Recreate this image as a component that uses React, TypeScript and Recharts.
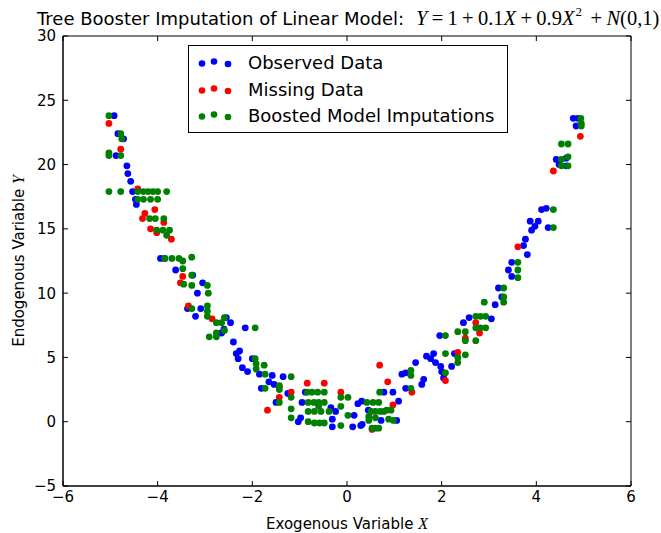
import React from 'react';
import { ScatterChart, Scatter, XAxis, YAxis, Legend, Customized, ReferenceArea, ReferenceLine } from 'recharts';

const xTicks = [-6, -4, -2, 0, 2, 4, 6];
const yTicks = [-5, 0, 5, 10, 15, 20, 25, 30];
const xDomain: [number, number] = [-6, 6];
const yDomain: [number, number] = [-5, 30];
const seriesNames = ['Observed Data', 'Missing Data', 'Boosted Model Imputations'];
const seriesColors = ['#0000ff', '#ff0000', '#008000'];

const observedData: [number, number][] = [
  [-4.92, 23.8], [-4.84, 22.4], [-4.72, 22.0], [-4.88, 20.7], [-4.65, 19.9], [-4.63, 19.3],
  [-4.57, 18.7], [-4.53, 17.9], [-4.47, 17.3], [-4.45, 16.9], [-3.94, 12.7], [-3.85, 12.7],
  [-3.62, 11.8], [-3.26, 11.4], [-3.05, 10.8], [-3.16, 10.0], [-3.37, 8.8], [-3.09, 8.8],
  [-3.2, 8.2], [-2.55, 8.1], [-2.46, 7.7], [-2.6, 7.2], [-2.65, 6.9], [-2.15, 7.3],
  [-2.4, 6.2], [-2.27, 5.5], [-2.34, 5.3], [-2.3, 4.9], [-2.0, 4.9], [-2.21, 4.2],
  [-2.1, 3.9], [-1.85, 3.7], [-1.58, 3.6], [-1.35, 3.5], [-1.81, 2.6], [-1.54, 2.9],
  [-1.65, 3.1], [-1.5, 1.5], [-1.25, 2.2], [-1.03, 0.0], [-0.98, 0.3], [-0.88, 2.3],
  [-0.95, 1.5], [-0.34, 1.1], [-0.31, 0.2], [-0.31, -0.4], [-0.24, 0.8], [0.15, 0.5],
  [0.12, -0.4], [0.29, -0.3], [0.23, 1.4], [0.31, 1.6], [0.45, 0.9], [0.32, -0.2],
  [0.78, 2.3], [0.97, 2.3], [0.72, 0.1], [1.05, 0.1], [1.09, 1.6], [1.16, 3.7],
  [1.24, 3.8], [1.45, 4.6], [1.24, 2.6], [1.58, 2.9], [1.62, 3.3], [1.68, 5.1],
  [1.77, 4.9], [1.83, 5.3], [1.87, 4.6], [1.98, 4.3], [2.0, 3.9], [2.04, 3.4],
  [2.21, 4.3], [2.27, 5.3], [1.96, 6.7], [2.46, 7.7], [2.58, 8.1], [3.05, 8.0],
  [3.13, 9.1], [3.2, 10.4], [3.27, 9.7], [3.41, 11.8], [3.48, 12.4], [3.48, 11.3],
  [3.81, 13.0], [3.73, 13.7], [3.77, 14.2], [3.9, 14.9], [3.97, 15.2], [3.87, 15.6],
  [4.04, 15.6], [4.25, 15.1], [4.11, 16.5], [4.21, 16.6], [4.42, 20.4], [4.48, 20.0],
  [4.63, 19.9], [4.63, 20.5], [4.78, 23.6], [4.84, 23.0], [4.88, 23.6],
];

const missingData: [number, number][] = [
  [-5.03, 23.2], [-4.78, 21.2], [-4.42, 18.1], [-4.06, 16.5], [-4.27, 16.2], [-4.32, 15.8],
  [-3.87, 15.5], [-4.15, 15.0], [-4.02, 14.7], [-3.71, 14.2], [-3.47, 11.3], [-3.52, 10.8],
  [-3.35, 9.0], [-2.85, 8.0], [-1.68, 0.9], [-1.43, 1.9], [-1.18, 2.3], [-0.84, 3.0],
  [-0.48, 3.0], [-0.13, 2.3], [0.53, -0.6], [0.69, 4.4], [0.86, 3.1], [0.97, 1.3],
  [1.37, 2.3], [2.08, 3.2], [2.34, 5.4], [2.5, 6.5], [2.72, 7.7], [2.8, 6.9],
  [3.61, 13.6], [4.36, 19.5], [4.93, 22.2],
];

const imputedData: [number, number][] = [
  [-5.03, 23.8], [-4.78, 22.4], [-4.76, 22.0], [-5.03, 20.9], [-5.03, 20.7], [-4.78, 20.7],
  [-5.03, 17.9], [-4.78, 17.9], [-4.42, 17.9], [-4.3, 17.9], [-4.2, 17.9], [-4.1, 17.9],
  [-4.0, 17.9], [-3.81, 17.9], [-4.42, 17.3], [-4.3, 17.3], [-4.15, 17.3], [-4.0, 17.3],
  [-4.17, 15.8], [-4.05, 15.8], [-3.87, 15.8], [-4.02, 14.9], [-3.89, 14.9], [-3.75, 14.9],
  [-3.81, 14.5], [-3.85, 12.7], [-3.7, 12.7], [-3.55, 12.7], [-3.47, 12.5], [-3.28, 12.8],
  [-3.47, 11.9], [-3.28, 11.4], [-3.45, 10.7], [-3.28, 10.6], [-2.95, 10.6], [-2.93, 10.0],
  [-3.28, 8.8], [-2.95, 9.0], [-2.95, 8.6], [-2.95, 8.2], [-2.59, 8.1], [-2.76, 7.7],
  [-2.65, 7.7], [-2.59, 7.1], [-2.76, 6.9], [-2.91, 6.6], [-2.76, 6.6], [-1.94, 7.3],
  [-1.94, 4.9], [-1.92, 4.5], [-1.75, 4.4], [-1.92, 4.1], [-1.73, 3.7], [-1.73, 2.6],
  [-1.43, 2.7], [-1.18, 3.5], [-1.43, 2.8], [-1.43, 2.5], [-1.43, 1.5], [-1.18, 1.9],
  [-1.18, 1.0], [-1.18, 0.3], [-0.84, 2.3], [-0.74, 2.3], [-0.62, 2.3], [-0.48, 2.3],
  [-0.82, 1.5], [-0.7, 1.5], [-0.6, 1.5], [-0.48, 1.5], [-0.6, 1.2], [-0.82, 0.8],
  [-0.69, 0.8], [-0.55, 0.8], [-0.38, 0.8], [-0.82, 0.0], [-0.69, -0.1], [-0.58, -0.1],
  [-0.48, -0.1], [-0.13, 1.9], [0.02, 1.9], [-0.13, 1.2], [0.02, 0.5], [-0.13, -0.3],
  [0.42, 1.5], [0.55, 1.5], [0.67, 1.5], [0.51, 0.8], [0.6, 0.8], [0.7, 0.8],
  [0.78, 0.8], [0.46, 0.4], [0.6, 0.3], [0.46, 0.1], [0.53, -0.5], [0.6, -0.5],
  [0.67, -0.5], [0.69, 2.3], [0.84, 0.9], [0.93, 0.9], [0.88, 0.2], [0.98, 0.1],
  [1.35, 4.0], [1.35, 3.6], [1.35, 2.6], [2.08, 3.8], [2.08, 5.3], [2.34, 5.0],
  [2.34, 4.6], [2.5, 5.2], [2.08, 6.7], [2.34, 7.0], [2.5, 7.0], [2.5, 6.3],
  [2.72, 6.3], [2.72, 8.2], [2.82, 8.2], [2.93, 8.2], [2.72, 7.3], [2.82, 7.3],
  [2.93, 7.3], [2.9, 9.3], [3.31, 9.7], [3.31, 9.3], [3.31, 10.4], [3.61, 12.4],
  [3.61, 11.8], [3.61, 11.2], [4.36, 15.1], [4.36, 16.5], [4.53, 20.4], [4.53, 19.9],
  [4.67, 19.9], [4.67, 20.6], [4.53, 21.6], [4.67, 21.6], [4.94, 23.6], [4.95, 23.0],
  [4.95, 23.2],
];

const allSeries = [observedData, missingData, imputedData];

const toPoints = (arr: [number, number][]) => arr.map(([x, y]) => ({ x, y }));
const fmt = (v: number) => (v < 0 ? '\u2212' + Math.abs(v) : String(v));

const FONT = 'DejaVu Sans';
const TICK_LEN = 5;
// inward tick lengths for the top/right spines, in data units (about 5px)
const X_TICK_UNITS = 0.106;
const Y_TICK_UNITS = 0.39;

const BottomTick = (props: any) => {
  const { x, y, payload } = props;
  return (
    <g>
      <line x1={x} y1={y} x2={x} y2={y - TICK_LEN} stroke="#000" strokeWidth={1} />
      <text x={x} y={y + 4} dy="0.8em" textAnchor="middle" fontFamily={FONT} fontSize={15} fill="#000">
        {fmt(payload.value)}
      </text>
    </g>
  );
};
const LeftTick = (props: any) => {
  const { x, y, payload } = props;
  return (
    <g>
      <line x1={x} y1={y} x2={x + TICK_LEN} y2={y} stroke="#000" strokeWidth={1} />
      <text x={x - 7} y={y} dy="0.36em" textAnchor="end" fontFamily={FONT} fontSize={15} fill="#000">
        {fmt(payload.value)}
      </text>
    </g>
  );
};

const makeDot = (color: string) => (props: any) =>
  props.cx == null ? <g /> : <circle cx={props.cx} cy={props.cy} r={3.4} fill={color} />;

const legendDotX = [13, 25, 39];
const legendDotDy = [0.5, -1.5, 1];

const LegendBox = () => (
  <div
    style={{
      boxSizing: 'border-box',
      width: 320,
      height: 88,
      border: '1px solid #000',
      background: '#fff',
      position: 'relative',
      fontFamily: FONT,
      fontSize: 18,
      color: '#000',
    }}
  >
    {seriesNames.map((name, i) => (
      <div
        key={name}
        style={{
          position: 'absolute',
          left: 0,
          top: 17 + i * 26.5 - 13,
          height: 26,
          display: 'flex',
          alignItems: 'center',
          whiteSpace: 'nowrap',
        }}
      >
        <svg width={59} height={26} style={{ display: 'block' }}>
          {legendDotX.map((cx, j) => (
            <circle key={j} cx={cx} cy={13 + legendDotDy[j]} r={3.3} fill={seriesColors[i]} />
          ))}
        </svg>
        <span style={{ lineHeight: '26px' }}>{name}</span>
      </div>
    ))}
  </div>
);

const OP = 4.3;

const Texts = () => (
  <g>
    <text x={37} y={25} fontFamily={FONT} fontSize={18} fill="#000">
      Tree Booster Imputation of Linear Model:
    </text>
    <text x={416} y={25} fontFamily="Liberation Serif" fontSize={20.5} fill="#000">
      <tspan fontStyle="italic">Y</tspan>
      <tspan dx={OP}>=</tspan>
      <tspan dx={OP}>1</tspan>
      <tspan dx={OP}>+</tspan>
      <tspan dx={OP}>0.1</tspan>
      <tspan fontStyle="italic">X</tspan>
      <tspan dx={OP}>+</tspan>
      <tspan dx={OP}>0.9</tspan>
      <tspan fontStyle="italic">X</tspan>
      <tspan fontSize={13} dy={-9} dx={1}>2</tspan>
      <tspan dy={9} dx={OP * 2}>+</tspan>
      <tspan dx={OP} fontStyle="italic">N</tspan>
      <tspan>(0,1)</tspan>
    </text>
    <text x={347} y={529} textAnchor="middle" fontFamily={FONT} fontSize={15} fill="#000">
      Exogenous Variable <tspan fontFamily="Liberation Serif" fontStyle="italic" fontSize={16}>X</tspan>
    </text>
    <text transform="translate(24,261) rotate(-90)" textAnchor="middle" fontFamily={FONT} fontSize={15} fill="#000">
      Endogenous Variable <tspan fontFamily="Liberation Serif" fontStyle="italic" fontSize={16}>Y</tspan>
    </text>
  </g>
);

export default function App() {
  return (
    <div style={{ position: 'absolute', left: 0, top: 0, width: 661, height: 533, background: '#fff' }}>
      <ScatterChart width={661} height={533} margin={{ top: 36, right: 30, bottom: 0, left: 0 }}>
        <XAxis
          type="number"
          dataKey="x"
          domain={xDomain}
          ticks={xTicks}
          interval={0}
          height={47}
          tickSize={0}
          tickMargin={0}
          tickLine={false}
          axisLine={{ stroke: '#000', strokeWidth: 1 }}
          tick={<BottomTick />}
          allowDataOverflow
        />
        <YAxis
          type="number"
          dataKey="y"
          domain={yDomain}
          ticks={yTicks}
          interval={0}
          width={63}
          tickSize={0}
          tickMargin={0}
          tickLine={false}
          axisLine={{ stroke: '#000', strokeWidth: 1 }}
          tick={<LeftTick />}
          allowDataOverflow
        />
        <ReferenceArea
          x1={xDomain[0]}
          x2={xDomain[1]}
          y1={yDomain[0]}
          y2={yDomain[1]}
          fill="none"
          fillOpacity={0}
          stroke="#000"
          strokeWidth={1}
          ifOverflow="visible"
        />
        {xTicks.map((t) => (
          <ReferenceLine
            key={'tx' + t}
            segment={[
              { x: t, y: yDomain[1] },
              { x: t, y: yDomain[1] - Y_TICK_UNITS },
            ]}
            stroke="#000"
            strokeWidth={1}
            ifOverflow="visible"
          />
        ))}
        {yTicks.map((t) => (
          <ReferenceLine
            key={'ty' + t}
            segment={[
              { x: xDomain[1], y: t },
              { x: xDomain[1] - X_TICK_UNITS, y: t },
            ]}
            stroke="#000"
            strokeWidth={1}
            ifOverflow="visible"
          />
        ))}
        {allSeries.map((s, i) => (
          <Scatter
            key={seriesNames[i]}
            name={seriesNames[i]}
            data={toPoints(s)}
            fill={seriesColors[i]}
            shape={makeDot(seriesColors[i])}
            isAnimationActive={false}
          />
        ))}
        <Legend
          layout="vertical"
          verticalAlign="middle"
          align="center"
          wrapperStyle={{ position: 'absolute', left: 188, top: 45, width: 320, height: 88, margin: 0 }}
          content={() => <LegendBox />}
        />
        <Customized component={Texts} />
      </ScatterChart>
    </div>
  );
}
